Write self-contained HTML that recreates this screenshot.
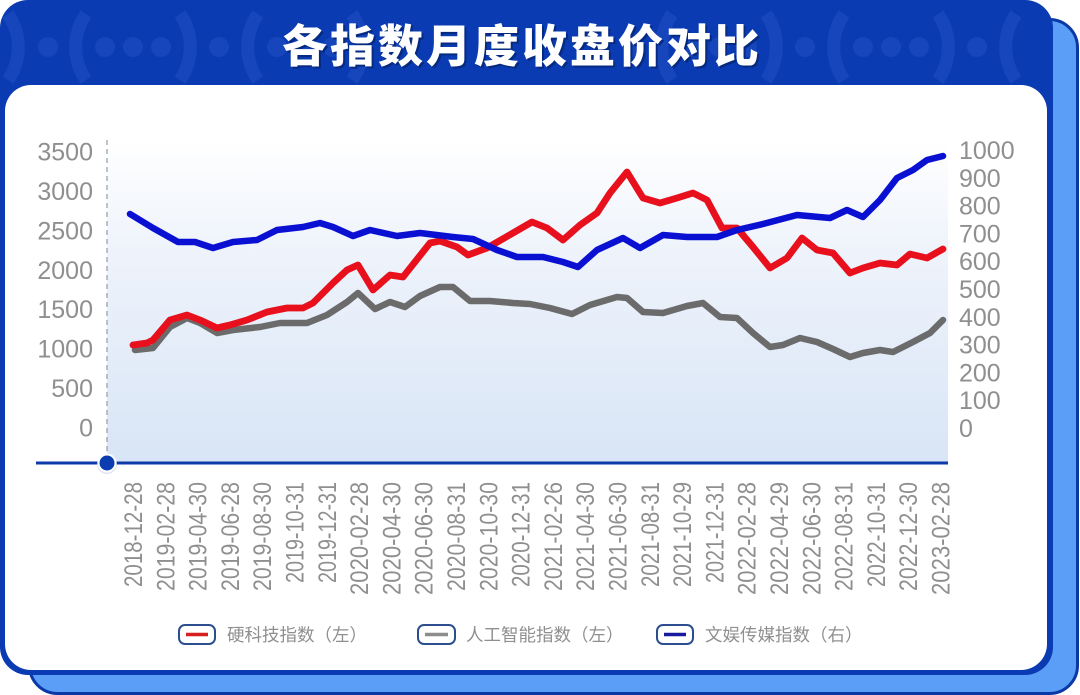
<!DOCTYPE html>
<html>
<head>
<meta charset="utf-8">
<style>
  html,body{margin:0;padding:0;background:#ffffff;}
  body{width:1080px;height:695px;overflow:hidden;}
  svg{display:block;}
  .tick{font-family:"Liberation Sans","DejaVu Sans",sans-serif;font-size:25px;fill:#8f8f8f;}
  .xl{font-family:"Liberation Sans","DejaVu Sans",sans-serif;font-size:25px;fill:#8f8f8f;}
  .lg{font-family:"Liberation Sans","Noto Sans CJK SC","WenQuanYi Zen Hei",sans-serif;font-size:17.5px;fill:#8f8f8f;}
  .title{font-family:"Noto Sans CJK SC","WenQuanYi Zen Hei",sans-serif;font-size:45px;font-weight:900;letter-spacing:3px;}
</style>
</head>
<body>
<svg width="1080" height="695" viewBox="0 0 1080 695" xmlns="http://www.w3.org/2000/svg">
  <defs>
    <linearGradient id="pg" x1="0" y1="0" x2="0" y2="1">
      <stop offset="0" stop-color="#ffffff"/>
      <stop offset="0.35" stop-color="#eef3fb"/>
      <stop offset="1" stop-color="#d8e5f6"/>
    </linearGradient>
    <clipPath id="hdr">
      <rect x="0" y="0" width="1053" height="86"/>
    </clipPath>
    <g id="motif" fill="none" stroke="#1645bc" stroke-width="13">
      <path d="M -47 -33 A 58 58 0 0 0 -47 33"/>
      <path d="M 47 -33 A 58 58 0 0 1 47 33"/>
    </g>
  </defs>

  <!-- back layer -->
  <rect x="29.5" y="19.5" width="1048" height="674" rx="28" fill="#5b9ef7" stroke="#0a39a5" stroke-width="3"/>
  <!-- front layer -->
  <rect x="0" y="0" width="1053" height="675" rx="28" fill="#0b3bb2"/>

  <!-- header decorations -->
  <g clip-path="url(#hdr)">
    <g fill="#1645bc">
      <use href="#motif" x="133" y="47"/>
      <circle cx="105" cy="47" r="10"/><circle cx="133" cy="47" r="10"/><circle cx="161" cy="47" r="10"/>
      <circle cx="48" cy="47" r="10"/><circle cx="219" cy="47" r="10"/>
      <use href="#motif" x="-39" y="47"/>
      <use href="#motif" x="305" y="47"/>
      <circle cx="277" cy="47" r="10"/><circle cx="305" cy="47" r="10"/><circle cx="333" cy="47" r="10"/>
      <circle cx="391" cy="47" r="10"/>
      <use href="#motif" x="891" y="47"/>
      <circle cx="863" cy="47" r="10"/><circle cx="891" cy="47" r="10"/><circle cx="919" cy="47" r="10"/>
      <circle cx="805" cy="47" r="10"/><circle cx="977" cy="47" r="10"/>
      <use href="#motif" x="1063" y="47"/>
      <use href="#motif" x="719" y="47"/>
      <circle cx="691" cy="47" r="10"/><circle cx="719" cy="47" r="10"/><circle cx="747" cy="47" r="10"/>
      <circle cx="633" cy="47" r="10"/>
    </g>
  </g>

  <!-- title -->
  <text class="title" x="524" y="64" text-anchor="middle" fill="#062a80">各指数月度收盘价对比</text>
  <text class="title" x="522" y="62" text-anchor="middle" fill="#ffffff">各指数月度收盘价对比</text>

  <!-- white panel -->
  <rect x="5" y="85" width="1042" height="585" rx="26" fill="#ffffff"/>

  <!-- plot area -->
  <rect x="107" y="140" width="841" height="323" fill="url(#pg)"/>
  <line x1="107" y1="140" x2="107" y2="463" stroke="#9aa3b0" stroke-width="1.3" stroke-dasharray="5,4"/>

  <!-- left ticks -->
  <g class="tick" text-anchor="end">
    <text x="93" y="160.5">3500</text>
    <text x="93" y="199.9">3000</text>
    <text x="93" y="239.4">2500</text>
    <text x="93" y="278.8">2000</text>
    <text x="93" y="318.2">1500</text>
    <text x="93" y="357.6">1000</text>
    <text x="93" y="397.1">500</text>
    <text x="93" y="436.5">0</text>
  </g>
  <!-- right ticks -->
  <g class="tick" text-anchor="start">
    <text x="959" y="159">1000</text>
    <text x="959" y="186.8">900</text>
    <text x="959" y="214.6">800</text>
    <text x="959" y="242.4">700</text>
    <text x="959" y="270.2">600</text>
    <text x="959" y="298">500</text>
    <text x="959" y="325.8">400</text>
    <text x="959" y="353.6">300</text>
    <text x="959" y="381.4">200</text>
    <text x="959" y="409.2">100</text>
    <text x="959" y="437">0</text>
  </g>

  <!-- series -->
  <g fill="none" stroke-linejoin="round" stroke-linecap="round">
    <polyline stroke="#6b6b6b" stroke-width="6.5" points="135,350 153,348 170,327 187,318 200,323 217,333 233,330 260,327 280,323 307,323 327,315 347,302 358,293 375,309 390,302 405,307 420,296 440,287 453,287 470,301 490,301 513,303 530,304 550,308 572,314 590,305 617,297 627,298 643,312 663,313 687,306 703,303 720,317 737,318 753,333 770,347 783,345 800,338 817,342 833,349 850,357 863,353 880,350 893,352 913,342 930,333 943,320"/>
    <polyline stroke="#e8101c" stroke-width="6.8" points="133,345 147,343 153,340 170,320 187,315 200,320 217,328 230,325 247,320 267,312 287,308 303,308 313,303 333,283 347,270 358,265 373,290 390,275 403,277 430,243 440,241 457,247 468,255 487,248 513,233 532,222 547,228 563,240 580,225 597,213 610,193 627,172 643,198 660,203 677,198 693,193 707,200 722,228 737,228 753,247 770,268 787,258 802,238 817,250 833,253 850,273 863,268 880,263 897,265 910,254 927,258 943,249"/>
    <polyline stroke="#0a10d2" stroke-width="6.5" points="130,214 153,228 178,242 195,242 213,248 233,242 257,240 277,230 303,227 320,223 333,227 353,236 370,230 397,236 420,233 453,237 473,239 497,250 517,257 543,257 563,262 578,267 597,250 623,238 640,248 663,235 687,237 717,237 737,230 763,224 797,215 830,218 847,210 863,217 880,200 897,178 913,170 927,160 943,156"/>
  </g>

  <!-- baseline -->
  <line x1="36" y1="463" x2="948" y2="463" stroke="#0d3aa8" stroke-width="3"/>
  <circle cx="107" cy="464" r="10" fill="#c9d3e6" opacity="0.6"/>
  <circle cx="107" cy="463" r="8.5" fill="#0b3db0" stroke="#ffffff" stroke-width="2"/>

  <!-- x labels -->
  <g class="xl" text-anchor="end">
    <text transform="translate(142,482) rotate(-90)" textLength="105" lengthAdjust="spacingAndGlyphs">2018-12-28</text>
    <text transform="translate(174.3,482) rotate(-90)" textLength="109" lengthAdjust="spacingAndGlyphs">2019-02-28</text>
    <text transform="translate(206.6,482) rotate(-90)" textLength="109" lengthAdjust="spacingAndGlyphs">2019-04-30</text>
    <text transform="translate(238.9,482) rotate(-90)" textLength="109" lengthAdjust="spacingAndGlyphs">2019-06-28</text>
    <text transform="translate(271.2,482) rotate(-90)" textLength="109" lengthAdjust="spacingAndGlyphs">2019-08-30</text>
    <text transform="translate(303.5,482) rotate(-90)" textLength="101" lengthAdjust="spacingAndGlyphs">2019-10-31</text>
    <text transform="translate(335.8,482) rotate(-90)" textLength="101" lengthAdjust="spacingAndGlyphs">2019-12-31</text>
    <text transform="translate(368.1,482) rotate(-90)" textLength="113" lengthAdjust="spacingAndGlyphs">2020-02-28</text>
    <text transform="translate(400.4,482) rotate(-90)" textLength="113" lengthAdjust="spacingAndGlyphs">2020-04-30</text>
    <text transform="translate(432.7,482) rotate(-90)" textLength="113" lengthAdjust="spacingAndGlyphs">2020-06-30</text>
    <text transform="translate(465,482) rotate(-90)" textLength="109" lengthAdjust="spacingAndGlyphs">2020-08-31</text>
    <text transform="translate(497.3,482) rotate(-90)" textLength="109" lengthAdjust="spacingAndGlyphs">2020-10-30</text>
    <text transform="translate(529.6,482) rotate(-90)" textLength="105" lengthAdjust="spacingAndGlyphs">2020-12-31</text>
    <text transform="translate(561.9,482) rotate(-90)" textLength="109" lengthAdjust="spacingAndGlyphs">2021-02-26</text>
    <text transform="translate(594.2,482) rotate(-90)" textLength="109" lengthAdjust="spacingAndGlyphs">2021-04-30</text>
    <text transform="translate(626.5,482) rotate(-90)" textLength="109" lengthAdjust="spacingAndGlyphs">2021-06-30</text>
    <text transform="translate(658.8,482) rotate(-90)" textLength="105" lengthAdjust="spacingAndGlyphs">2021-08-31</text>
    <text transform="translate(691.1,482) rotate(-90)" textLength="105" lengthAdjust="spacingAndGlyphs">2021-10-29</text>
    <text transform="translate(723.4,482) rotate(-90)" textLength="101" lengthAdjust="spacingAndGlyphs">2021-12-31</text>
    <text transform="translate(755.7,482) rotate(-90)" textLength="113" lengthAdjust="spacingAndGlyphs">2022-02-28</text>
    <text transform="translate(788,482) rotate(-90)" textLength="113" lengthAdjust="spacingAndGlyphs">2022-04-29</text>
    <text transform="translate(820.3,482) rotate(-90)" textLength="113" lengthAdjust="spacingAndGlyphs">2022-06-30</text>
    <text transform="translate(852.6,482) rotate(-90)" textLength="109" lengthAdjust="spacingAndGlyphs">2022-08-31</text>
    <text transform="translate(884.9,482) rotate(-90)" textLength="105" lengthAdjust="spacingAndGlyphs">2022-10-31</text>
    <text transform="translate(917.2,482) rotate(-90)" textLength="109" lengthAdjust="spacingAndGlyphs">2022-12-30</text>
    <text transform="translate(949.5,482) rotate(-90)" textLength="113" lengthAdjust="spacingAndGlyphs">2023-02-28</text>
  </g>

  <!-- legend -->
  <g>
    <rect x="179" y="625" width="36" height="19" rx="6" fill="#ffffff" stroke="#2d4e8e" stroke-width="2"/>
    <line x1="186" y1="634.5" x2="208" y2="634.5" stroke="#d81e1e" stroke-width="3.5"/>
    <text class="lg" x="227" y="641">硬科技指数（左）</text>

    <rect x="418" y="625" width="37" height="19" rx="6" fill="#ffffff" stroke="#2d4e8e" stroke-width="2"/>
    <line x1="425" y1="634.5" x2="448" y2="634.5" stroke="#8c8c8c" stroke-width="3.5"/>
    <text class="lg" x="466" y="641">人工智能指数（左）</text>

    <rect x="657" y="625" width="36" height="19" rx="6" fill="#ffffff" stroke="#2d4e8e" stroke-width="2"/>
    <line x1="664" y1="634.5" x2="686" y2="634.5" stroke="#1a1aa0" stroke-width="3.5"/>
    <text class="lg" x="705" y="641">文娱传媒指数（右）</text>
  </g>
</svg>
</body>
</html>
